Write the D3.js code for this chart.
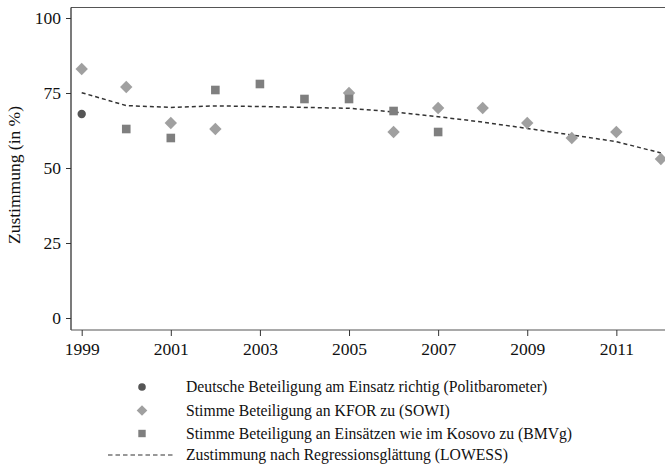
<!DOCTYPE html>
<html><head><meta charset="utf-8">
<script src="https://cdn.jsdelivr.net/npm/d3@7"></script>
<style>body{margin:0;background:#fff}svg{display:block}text{font-family:"Liberation Serif","Times New Roman",serif;fill:#111}</style>
</head><body><svg id="c" width="665" height="472"></svg>
<script>
const politYears = [1999];
const politValues = [68];
const sowiYears = [1999, 2000, 2001, 2002, 2005, 2006, 2007, 2008, 2009, 2010, 2011, 2012];
const sowiValues = [83, 77, 65, 63, 75, 62, 70, 70, 65, 60, 62, 53];
const bmvgYears = [2000, 2001, 2002, 2003, 2004, 2005, 2006, 2007];
const bmvgValues = [63, 60, 76, 78, 73, 73, 69, 62];
const lowessYears = [1999, 2000, 2001, 2002, 2003, 2004, 2005, 2006, 2007, 2008, 2009, 2010, 2011, 2012];
const lowessValues = [75.1, 70.8, 70.2, 70.7, 70.5, 70.2, 69.9, 68.7, 67.1, 65.3, 63.2, 61.0, 58.8, 55.0];
const xTicks = [1999, 2001, 2003, 2005, 2007, 2009, 2011];
const yTicks = [0, 25, 50, 75, 100];
const legendLabels = [
  "Deutsche Beteiligung am Einsatz richtig (Politbarometer)",
  "Stimme Beteiligung an KFOR zu (SOWI)",
  "Stimme Beteiligung an Einsätzen wie im Kosovo zu (BMVg)",
  "Zustimmung nach Regressionsglättung (LOWESS)"
];
const yLabel = "Zustimmung (in %)";

(function () {
const svg = d3.select("#c");
const x = d3.scaleLinear().domain([1999, 2012]).range([81.7, 660.9]);
const y = d3.scaleLinear().domain([0, 100]).range([318, 18]);
const pLeft = 71, pTop = 7.5, pBottom = 330, pRight = 666;

const cDiamond = "#a0a0a0", cSquare = "#7f7f7f", cCircle = "#555555";

svg.append("line").attr("x1", pLeft).attr("x2", pRight).attr("y1", pTop).attr("y2", pTop)
  .attr("stroke", "#555").attr("stroke-width", 1.2);

const ya = svg.append("g").attr("transform", `translate(${pLeft},0)`)
  .call(d3.axisLeft(y).tickValues(yTicks).tickSize(5).tickPadding(5).tickFormat(d3.format("d")));
ya.select(".domain").attr("d", `M0,${pTop}V${pBottom}`).attr("stroke", "#222").attr("stroke-width", 1.2);
ya.selectAll(".tick line").attr("stroke", "#333");
ya.selectAll("text").style("font-size", "17.5px").style("font-family", "'Liberation Serif', serif").attr("fill", "#111");

const xa = svg.append("g").attr("transform", `translate(0,${pBottom})`)
  .call(d3.axisBottom(x).tickValues(xTicks).tickSize(6).tickPadding(7).tickFormat(d3.format("d")));
xa.select(".domain").attr("d", `M${pLeft},0H${pRight}`).attr("stroke", "#555").attr("stroke-width", 1.2);
xa.selectAll(".tick line").attr("stroke", "#333");
xa.selectAll("text").style("font-size", "17.5px").style("font-family", "'Liberation Serif', serif").attr("fill", "#111");

svg.append("text").attr("transform", "translate(20,175) rotate(-90)")
  .attr("text-anchor", "middle").style("font-size", "17.5px").text(yLabel);

const plot = svg.append("g");
plot.append("path")
  .datum(lowessYears.map((d, i) => [d, lowessValues[i]]))
  .attr("d", d3.line().x(d => x(d[0])).y(d => y(d[1])))
  .attr("fill", "none").attr("stroke", "#333").attr("stroke-width", 1.5)
  .attr("stroke-dasharray", "4,3");

const diamond = s => `M0,${-s}L${s},0L0,${s}L${-s},0Z`;
plot.selectAll(".dia").data(sowiYears).join("path")
  .attr("transform", (d, i) => `translate(${x(d)},${y(sowiValues[i])})`)
  .attr("d", diamond(6.2)).attr("fill", cDiamond);
plot.selectAll(".sq").data(bmvgYears).join("rect")
  .attr("x", d => x(d) - 4.3).attr("y", (d, i) => y(bmvgValues[i]) - 4.3)
  .attr("width", 8.6).attr("height", 8.6).attr("fill", cSquare);
plot.selectAll(".ci").data(politYears).join("circle")
  .attr("cx", d => x(d)).attr("cy", (d, i) => y(politValues[i])).attr("r", 4.2).attr("fill", cCircle);

const lg = svg.append("g");
const rows = [387, 410.5, 433.5, 455];
const mx = 142;
lg.append("circle").attr("cx", mx).attr("cy", rows[0]).attr("r", 3.8).attr("fill", cCircle);
lg.append("path").attr("transform", `translate(${mx},${rows[1]})`).attr("d", diamond(5.3)).attr("fill", cDiamond);
lg.append("rect").attr("x", mx - 3.7).attr("y", rows[2] - 3.7).attr("width", 7.4).attr("height", 7.4).attr("fill", cSquare);
lg.append("line").attr("x1", 108).attr("x2", 175).attr("y1", rows[3]).attr("y2", rows[3])
  .attr("stroke", "#333").attr("stroke-width", 1.2).attr("stroke-dasharray", "4.5,3");
lg.selectAll("text.l").data(legendLabels).join("text")
  .attr("x", 186).attr("y", (d, i) => rows[i]).attr("dy", "0.35em")
  .style("font-size", "15.7px").text(d => d);
})();
</script></body></html>
